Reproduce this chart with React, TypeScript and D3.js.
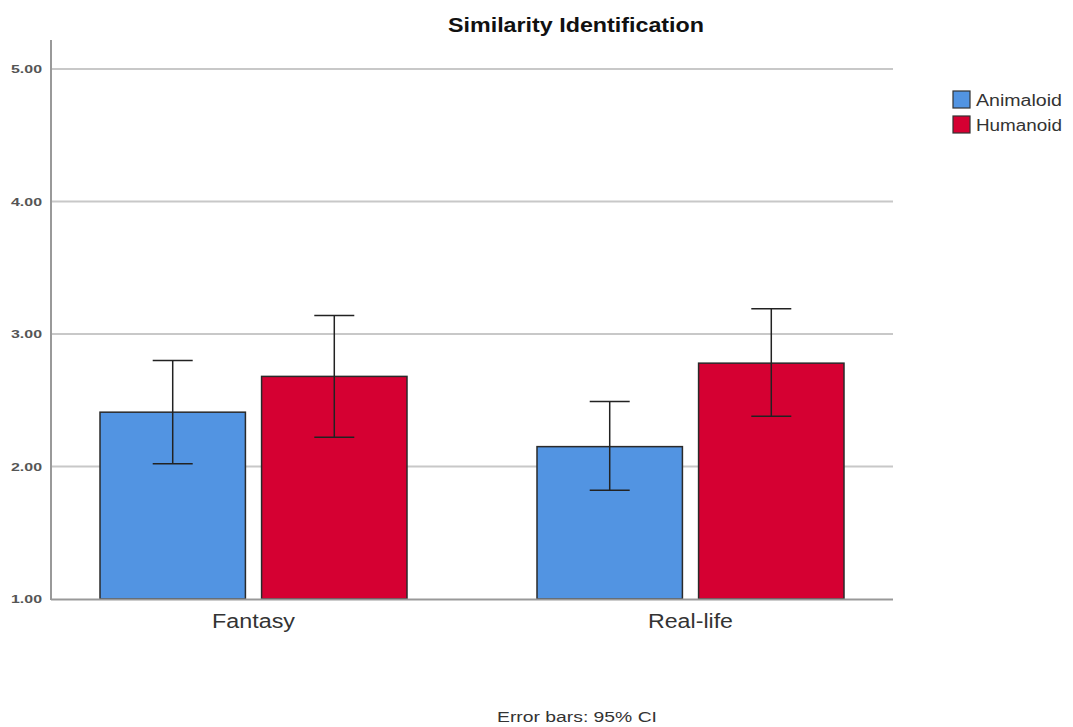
import React, { useEffect, useRef } from 'react';
import * as d3 from 'd3';

const categories = ['Fantasy', 'Real-life'];
const seriesNames = ['Animaloid', 'Humanoid'];
const colors = ['#5294e2', '#d50032'];
// mean, lower and upper 95% CI per series, per category
const means = [
  [2.41, 2.68],
  [2.15, 2.78],
];
const lowers = [
  [2.02, 2.22],
  [1.82, 2.38],
];
const uppers = [
  [2.8, 3.14],
  [2.49, 3.19],
];
const yTicks = [1, 2, 3, 4, 5];

function App() {
  const ref = useRef<SVGSVGElement>(null);

  useEffect(() => {
    const svg = d3.select(ref.current);
    svg.selectAll('*').remove();

    const font = 'Arial, "Liberation Sans", sans-serif';
    const left = 51;
    const right = 893;
    const y = d3.scaleLinear().domain([1, 5]).range([599, 69]);

    const x0 = d3.scaleBand().domain(categories).range([35, 909]);
    const x1 = d3
      .scaleBand()
      .domain(seriesNames)
      .range([65, 372])
      .paddingInner(0.1);

    // gridlines
    svg
      .append('g')
      .selectAll('line')
      .data(yTicks.slice(1))
      .enter()
      .append('line')
      .attr('x1', left)
      .attr('x2', right)
      .attr('y1', (d) => y(d))
      .attr('y2', (d) => y(d))
      .style('stroke', '#c8c8c8')
      .style('stroke-width', 2);

    // tick labels (the original is stretched wide)
    svg
      .append('g')
      .selectAll('text')
      .data(yTicks)
      .enter()
      .append('text')
      .attr('x', 42)
      .attr('y', (d) => y(d) + 4)
      .attr('text-anchor', 'end')
      .attr('textLength', 31)
      .attr('lengthAdjust', 'spacingAndGlyphs')
      .style('font-family', font)
      .style('font-size', '11.5px')
      .style('font-weight', 'bold')
      .style('fill', '#555')
      .text((d) => d3.format('.2f')(d));

    // bars
    const groups = svg
      .append('g')
      .selectAll('g')
      .data(categories)
      .enter()
      .append('g')
      .attr('transform', (d) => `translate(${x0(d)},0)`);

    groups
      .selectAll('rect')
      .data((_, ci) => seriesNames.map((s, si) => ({ s, si, ci })))
      .enter()
      .append('rect')
      .attr('x', (d) => x1(d.s)!)
      .attr('width', x1.bandwidth())
      .attr('y', (d) => y(means[d.ci][d.si]))
      .attr('height', (d) => y(1) - y(means[d.ci][d.si]))
      .style('fill', (d) => colors[d.si])
      .style('stroke', '#2a2a2a')
      .style('stroke-width', 1.5);

    // error bars
    const err = groups
      .selectAll('g.err')
      .data((_, ci) => seriesNames.map((s, si) => ({ s, si, ci })))
      .enter()
      .append('g')
      .attr('class', 'err')
      .style('stroke', '#222')
      .style('stroke-width', 1.5);
    const cx = (d: any) => x1(d.s)! + x1.bandwidth() / 2;
    err
      .append('line')
      .attr('x1', cx)
      .attr('x2', cx)
      .attr('y1', (d) => y(lowers[d.ci][d.si]))
      .attr('y2', (d) => y(uppers[d.ci][d.si]));
    err
      .append('line')
      .attr('x1', (d) => cx(d) - 20)
      .attr('x2', (d) => cx(d) + 20)
      .attr('y1', (d) => y(lowers[d.ci][d.si]))
      .attr('y2', (d) => y(lowers[d.ci][d.si]));
    err
      .append('line')
      .attr('x1', (d) => cx(d) - 20)
      .attr('x2', (d) => cx(d) + 20)
      .attr('y1', (d) => y(uppers[d.ci][d.si]))
      .attr('y2', (d) => y(uppers[d.ci][d.si]));

    // axes
    svg
      .append('line')
      .attr('x1', left)
      .attr('x2', left)
      .attr('y1', 40)
      .attr('y2', 600)
      .style('stroke', '#999')
      .style('stroke-width', 2);
    svg
      .append('line')
      .attr('x1', left)
      .attr('x2', right)
      .attr('y1', 599.5)
      .attr('y2', 599.5)
      .style('stroke', '#999')
      .style('stroke-width', 2);

    // category labels
    svg
      .append('g')
      .selectAll('text')
      .data(categories)
      .enter()
      .append('text')
      .attr('x', (d) => x0(d)! + (65 + 372) / 2)
      .attr('y', 628)
      .attr('text-anchor', 'middle')
      .attr('textLength', (d) => (d === 'Fantasy' ? 83 : 85))
      .attr('lengthAdjust', 'spacingAndGlyphs')
      .style('font-family', font)
      .style('font-size', '20px')
      .style('fill', '#333')
      .text((d) => d);

    // title
    svg
      .append('text')
      .attr('x', 576)
      .attr('y', 32)
      .attr('text-anchor', 'middle')
      .attr('textLength', 256)
      .attr('lengthAdjust', 'spacingAndGlyphs')
      .style('font-family', font)
      .style('font-size', '20px')
      .style('font-weight', 'bold')
      .style('fill', '#111')
      .text('Similarity Identification');

    // legend
    const legend = svg
      .append('g')
      .selectAll('g')
      .data(seriesNames)
      .enter()
      .append('g')
      .attr('transform', (_, i) => `translate(953,${91 + i * 25})`);
    legend
      .append('rect')
      .attr('width', 17)
      .attr('height', 17)
      .style('fill', (_, i) => colors[i])
      .style('stroke', '#333')
      .style('stroke-width', 1.2);
    legend
      .append('text')
      .attr('x', 23)
      .attr('y', 15)
      .attr('textLength', 86)
      .attr('lengthAdjust', 'spacingAndGlyphs')
      .style('font-family', font)
      .style('font-size', '16px')
      .style('fill', '#333')
      .text((d) => d);

    // footnote
    svg
      .append('text')
      .attr('x', 577)
      .attr('y', 722)
      .attr('text-anchor', 'middle')
      .attr('textLength', 160)
      .attr('lengthAdjust', 'spacingAndGlyphs')
      .style('font-family', font)
      .style('font-size', '14px')
      .style('fill', '#333')
      .text('Error bars: 95% CI');
  }, []);

  return (
    <svg
      ref={ref}
      width={1073}
      height={727}
      style={{ position: 'absolute', left: 0, top: 0, background: '#fff' }}
    />
  );
}

export default App;
